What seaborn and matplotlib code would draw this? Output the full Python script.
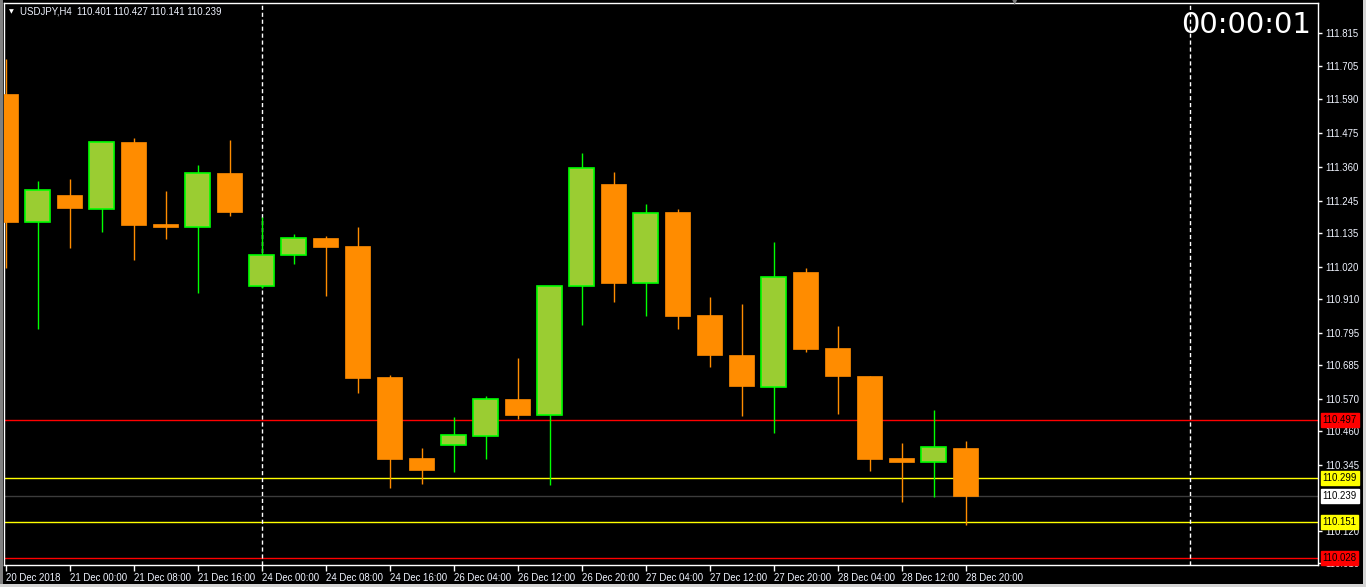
import numpy as np
import matplotlib
matplotlib.use("Agg")
import matplotlib.pyplot as plt
import matplotlib.transforms as mtransforms
from matplotlib.patches import Rectangle
import seaborn as sns

# ---------------- data ----------------
symbol_title = "USDJPY,H4  110.401 110.427 110.141 110.239"
clock_text = "00:00:01"

opens = [111.608, 111.173, 111.264, 111.218, 111.445, 111.165, 111.156, 111.339, 110.955, 111.061,
         111.118, 111.090, 110.644, 110.368, 110.413, 110.444, 110.569, 110.515, 110.953, 111.302,
         110.965, 111.206, 110.855, 110.719, 110.609, 111.002, 110.743, 110.647, 110.368, 110.355,
         110.401]
highs = [111.728, 111.312, 111.319, 111.446, 111.459, 111.278, 111.367, 111.452, 111.188, 111.131,
         111.125, 111.155, 110.651, 110.402, 110.508, 110.578, 110.709, 110.955, 111.407, 111.343,
         111.234, 111.217, 110.917, 110.893, 111.104, 111.015, 110.818, 110.647, 110.419, 110.532,
         110.427]
lows = [111.015, 110.809, 111.085, 111.139, 111.043, 111.114, 110.931, 111.194, 110.948, 111.030,
        110.921, 110.589, 110.267, 110.280, 110.321, 110.366, 110.501, 110.277, 110.822, 110.900,
        110.853, 110.809, 110.679, 110.511, 110.454, 110.730, 110.518, 110.325, 110.218, 110.236,
        110.141]
closes = [111.172, 111.280, 111.221, 111.444, 111.163, 111.156, 111.338, 111.206, 111.059, 111.117,
          111.087, 110.641, 110.365, 110.328, 110.445, 110.568, 110.514, 110.953, 111.355, 110.964,
          111.202, 110.853, 110.719, 110.613, 110.984, 110.739, 110.647, 110.365, 110.354, 110.404,
          110.239]

x_tick_bars = [0, 2, 4, 6, 8, 10, 12, 14, 16, 18, 20, 22, 24, 26, 28, 30]
x_tick_labels = ["20 Dec 2018", "21 Dec 00:00", "21 Dec 08:00", "21 Dec 16:00", "24 Dec 00:00",
                 "24 Dec 08:00", "24 Dec 16:00", "26 Dec 04:00", "26 Dec 12:00", "26 Dec 20:00",
                 "27 Dec 04:00", "27 Dec 12:00", "27 Dec 20:00", "28 Dec 04:00", "28 Dec 12:00",
                 "28 Dec 20:00"]

y_ticks = [111.815, 111.705, 111.590, 111.475, 111.360, 111.245, 111.135, 111.020, 110.910,
           110.795, 110.685, 110.570, 110.460, 110.345, 110.120, 110.010]

level_values = [110.497, 110.299, 110.239, 110.151, 110.028]
level_colors = ["#ff0000", "#ffff00", "#3c3c3c", "#ffff00", "#ff0000"]
level_box_colors = ["#ff0000", "#ffff00", "#ffffff", "#ffff00", "#ff0000"]

separator_bars = [8, 37]

# ---------------- style ----------------
sns.set_theme(style="dark", rc={
    "figure.facecolor": "black",
    "axes.facecolor": "black",
    "axes.edgecolor": "white",
    "axes.grid": False,
})
plt.rcParams["font.family"] = ["Liberation Sans", "DejaVu Sans"]

W, H = 1366, 587
fig = plt.figure(figsize=(W / 100, H / 100), dpi=100)
fig.patch.set_facecolor("black")

ax_left, ax_right, ax_top, ax_bot = 4, 1318, 3, 565
ax = fig.add_axes([ax_left / W, (H - ax_bot) / H, (ax_right - ax_left) / W, (ax_bot - ax_top) / H])
ax.set_facecolor("black")

bull_fill, bull_edge = "#9acd32", "#00ff00"
bear_fill = "#ff8c00"
label_color = "#f0f4ff"
fs = 6.9

xs = np.arange(len(opens))
o = np.array(opens); c = np.array(closes); hi = np.array(highs); lo = np.array(lows)
bull = c >= o

# wicks
ax.vlines(xs[bull], lo[bull], hi[bull], colors=bull_edge, linewidth=1.0, zorder=2)
ax.vlines(xs[~bull], lo[~bull], hi[~bull], colors=bear_fill, linewidth=1.0, zorder=2)

# bodies
body_w = 0.76
bottoms = np.minimum(o, c)
heights = np.maximum(np.abs(c - o), 0.004)
ax.bar(xs[bull], heights[bull], bottom=bottoms[bull], width=body_w,
       color=bull_fill, edgecolor=bull_edge, linewidth=1.2, zorder=3)
ax.bar(xs[~bull], heights[~bull], bottom=bottoms[~bull], width=body_w,
       color=bear_fill, edgecolor=bear_fill, linewidth=0.5, zorder=3)

# horizontal level lines
for v, col in zip(level_values, level_colors):
    ax.axhline(v, color=col, linewidth=1.0, zorder=1)

# weekly separators
for b in separator_bars:
    ax.axvline(b, color="white", linewidth=1.0, linestyle=(0, (3, 2)), zorder=1.5)

# scales
ax.set_xlim((ax_left - 5.5) / 32.0, (ax_right - 5.5) / 32.0)
ax.set_ylim(110.0032, 111.9186)

ax.yaxis.tick_right()
ax.set_yticks(y_ticks)
ax.set_yticklabels([f"{v:.3f}" for v in y_ticks])
ax.set_xticks(x_tick_bars)
ax.set_xticklabels(x_tick_labels, ha="left")
ax.tick_params(axis="y", which="both", right=True, left=False, length=3, width=1,
               color="white", labelcolor=label_color, labelsize=fs, pad=2.5)
ax.tick_params(axis="x", which="both", bottom=True, length=4, width=1,
               color="white", labelcolor=label_color, labelsize=fs, pad=2)
offset = mtransforms.ScaledTranslation(1 / 100, 0, fig.dpi_scale_trans)
for lbl in ax.get_xticklabels():
    lbl.set_transform(lbl.get_transform() + offset)

for side in ["left", "right", "top", "bottom"]:
    ax.spines[side].set_color("white")
    ax.spines[side].set_linewidth(1.0)

# price boxes for levels on the right scale
for v, bc in zip(level_values, level_box_colors):
    ax.annotate(f"{v:.3f}", xy=(1.0, v), xycoords=("axes fraction", "data"),
                xytext=(3.2, 0), textcoords="offset points", ha="left", va="center",
                fontsize=fs, color="black", zorder=10, annotation_clip=False,
                bbox=dict(boxstyle="square,pad=0.2", facecolor=bc, edgecolor=bc))

# title and clock
fig.text(11.5 / W, 1 - 12 / H, "\u25bc", color="white", fontsize=4.5,
         ha="center", va="center", family="DejaVu Sans")
fig.text(20 / W, 1 - 12 / H, symbol_title, color=label_color, fontsize=fs,
         ha="left", va="center")
fig.text(1311 / W, 1 - 25 / H, clock_text, color="white", fontsize=21,
         ha="right", va="center", family="DejaVu Sans")
fig.text(1015 / W, 1 - 2 / H, "\u25bc", color="#808080", fontsize=5,
         ha="center", va="center", family="DejaVu Sans")

# window borders
fig.patches.append(Rectangle((0, 0), 3 / W, 1, transform=fig.transFigure,
                             facecolor="#808080", edgecolor="none"))
fig.patches.append(Rectangle((1 - 3 / W, 0), 3 / W, 1, transform=fig.transFigure,
                             facecolor="#d4d4d4", edgecolor="none"))
fig.patches.append(Rectangle((0, 0), 1, 3.5 / H, transform=fig.transFigure,
                             facecolor="#d4d4d4", edgecolor="none"))

fig.savefig("out.png", dpi=100, facecolor="black")
